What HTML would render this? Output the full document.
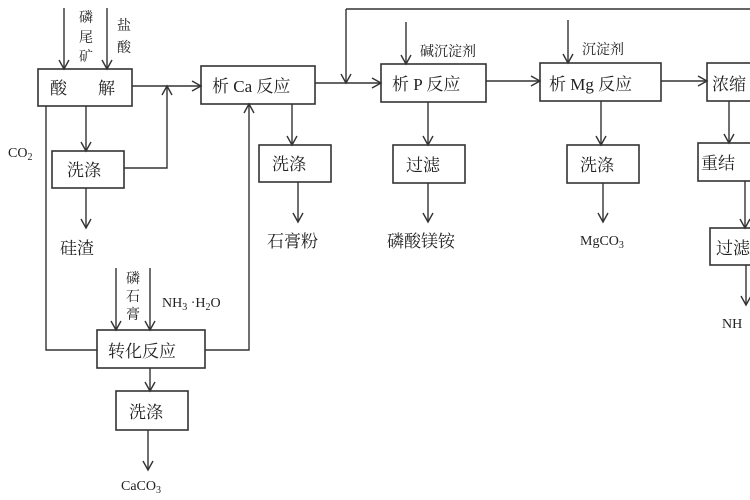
<!DOCTYPE html>
<html><head><meta charset="utf-8"><style>
body{margin:0;background:#fff}
svg{display:block}
text{font-family:"Liberation Serif","Noto Serif CJK SC",serif;fill:#222}
</style></head><body>
<svg width="750" height="500" viewBox="0 0 750 500">
<defs><marker id="a" markerWidth="12" markerHeight="12" refX="10" refY="6" orient="auto" markerUnits="userSpaceOnUse"><polyline points="1,1 10,6 1,11" fill="none" stroke="#333" stroke-width="1.4"/></marker></defs>
<g fill="none" stroke="#333" stroke-width="1.6">
<rect x="38" y="69" width="94" height="37"/>
<rect x="52" y="151" width="72" height="37"/>
<rect x="201" y="66" width="114" height="38"/>
<rect x="259" y="145" width="72" height="37"/>
<rect x="381" y="64" width="105" height="38"/>
<rect x="393" y="145" width="72" height="38"/>
<rect x="540" y="63" width="121" height="38"/>
<rect x="567" y="145" width="72" height="38"/>
<rect x="707" y="63" width="60" height="38"/>
<rect x="698" y="143" width="60" height="38"/>
<rect x="710" y="228" width="50" height="37"/>
<rect x="97" y="330" width="108" height="38"/>
<rect x="116" y="391" width="72" height="39"/>
</g>
<g fill="none" stroke="#333" stroke-width="1.4">
<path d="M64 8V69" marker-end="url(#a)"/>
<path d="M107 8V69" marker-end="url(#a)"/>
<path d="M132 86H201" marker-end="url(#a)"/>
<path d="M124 168H167V86" marker-end="url(#a)"/>
<path d="M86 106V151" marker-end="url(#a)"/>
<path d="M86 188V228" marker-end="url(#a)"/>
<path d="M46 106V350H97"/>
<path d="M205 350H249V104" marker-end="url(#a)"/>
<path d="M315 83H381" marker-end="url(#a)"/>
<path d="M346 9V83" marker-end="url(#a)"/>
<path d="M346 9H750"/>
<path d="M292 104V145" marker-end="url(#a)"/>
<path d="M298 182V222" marker-end="url(#a)"/>
<path d="M406 22V64" marker-end="url(#a)"/>
<path d="M428 102V145" marker-end="url(#a)"/>
<path d="M428 183V222" marker-end="url(#a)"/>
<path d="M486 81H540" marker-end="url(#a)"/>
<path d="M568 20V63" marker-end="url(#a)"/>
<path d="M601 101V145" marker-end="url(#a)"/>
<path d="M603 183V222" marker-end="url(#a)"/>
<path d="M661 81H707" marker-end="url(#a)"/>
<path d="M729 101V143" marker-end="url(#a)"/>
<path d="M745 181V228" marker-end="url(#a)"/>
<path d="M746 265V305" marker-end="url(#a)"/>
<path d="M116 268V330" marker-end="url(#a)"/>
<path d="M150 268V330" marker-end="url(#a)"/>
<path d="M150 368V391" marker-end="url(#a)"/>
<path d="M148 430V470" marker-end="url(#a)"/>
</g>
<g font-size="17">
<text x="50" y="94">酸</text><text x="98" y="94">解</text>
<text x="67" y="176">洗涤</text>
<text x="212" y="92">析 Ca 反应</text>
<text x="272" y="170">洗涤</text>
<text x="392" y="90">析 P 反应</text>
<text x="406" y="171">过滤</text>
<text x="549" y="90">析 Mg 反应</text>
<text x="580" y="171">洗涤</text>
<text x="712" y="90">浓缩</text>
<text x="701" y="169">重结</text>
<text x="716" y="254">过滤</text>
<text x="108" y="357">转化反应</text>
<text x="129" y="418">洗涤</text>
<text x="60" y="254">硅渣</text>
<text x="267" y="247">石膏粉</text>
<text x="387" y="247">磷酸镁铵</text>
</g>
<g font-size="14">
<text x="580" y="245">MgCO<tspan font-size="10" dy="3">3</tspan></text>
<text x="722" y="328">NH</text>
<text x="121" y="490">CaCO<tspan font-size="10" dy="3">3</tspan></text>
<text x="8" y="157">CO<tspan font-size="10" dy="3">2</tspan></text>
<text x="162" y="307">NH<tspan font-size="10" dy="3">3</tspan><tspan dy="-3"> ·H</tspan><tspan font-size="10" dy="3">2</tspan><tspan dy="-3">O</tspan></text>
<text x="420" y="56">碱沉淀剂</text>
<text x="582" y="54">沉淀剂</text>
<text x="79" y="22">磷</text><text x="79" y="42">尾</text><text x="79" y="61">矿</text>
<text x="117" y="30">盐</text><text x="117" y="52">酸</text>
<text x="126" y="283">磷</text><text x="126" y="301">石</text><text x="126" y="319">膏</text>
</g>
</svg>
</body></html>
